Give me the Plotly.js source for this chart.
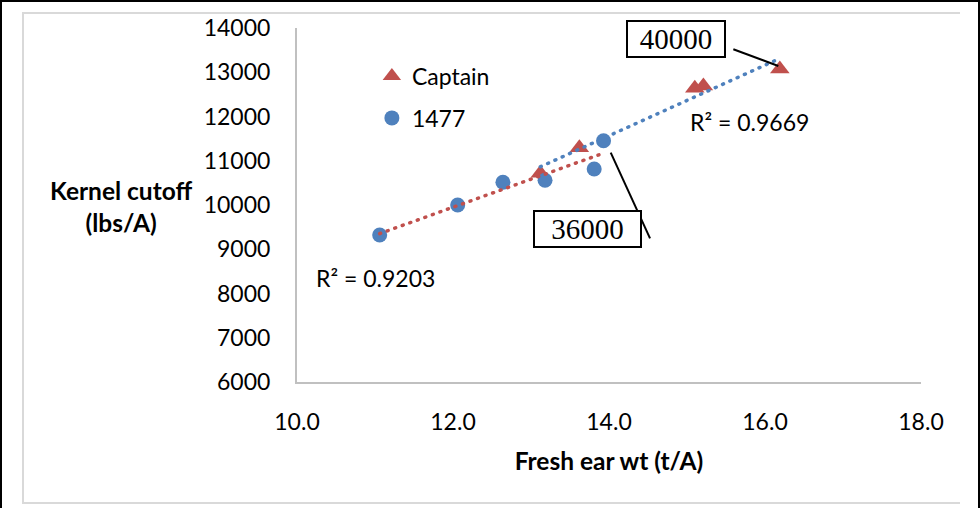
<!DOCTYPE html>
<html>
<head>
<meta charset="utf-8">
<script src="https://cdn.plot.ly/plotly-3.0.1.min.js"></script>
<style>
html,body{margin:0;padding:0;background:#fff;overflow:hidden;}
#frame{position:absolute;left:0;top:0;width:976px;height:506px;border-left:2px solid #000;border-top:2px solid #000;border-right:2px solid #000;}
#inner{position:absolute;left:22px;top:12px;width:936px;height:488px;border-left:2px solid #d9d9d9;border-top:2px solid #d9d9d9;border-bottom:2px solid #d9d9d9;}
#chart{position:absolute;left:0;top:0;width:980px;height:508px;z-index:2;}
.scatterlayer .trace path.js-line{stroke-linecap:round;}
</style>
</head>
<body>
<div id="frame"></div>
<div id="inner"></div>
<div id="chart"></div>
<script>
// ---- data ----
const seriesNames = ['Captain', '1477'];
const captainX = [13.12, 13.62, 15.10, 15.21, 16.19];
const captainY = [10716, 11295, 12637, 12689, 13073];
const s1477X = [11.06, 12.06, 12.64, 13.18, 13.81, 13.93];
const s1477Y = [9322, 10000, 10513, 10558, 10814, 11453];
const r2Labels = ['R² = 0.9669', 'R² = 0.9203'];
const calloutLabels = ['40000', '36000'];
const xTickVals = [10, 12, 14, 16, 18];
const yTickVals = [6000, 7000, 8000, 9000, 10000, 11000, 12000, 13000, 14000];
const xTitle = 'Fresh ear wt (t/A)';
const yTitleLines = ['Kernel cutoff', '(lbs/A)'];

// linear least-squares trendline over the data's own x span
function trend(xs, ys) {
  const n = xs.length;
  const mx = xs.reduce((a, b) => a + b, 0) / n;
  const my = ys.reduce((a, b) => a + b, 0) / n;
  let sxy = 0, sxx = 0;
  for (let i = 0; i < n; i++) { sxy += (xs[i] - mx) * (ys[i] - my); sxx += (xs[i] - mx) ** 2; }
  const b = sxy / sxx, a = my - b * mx;
  const x0 = Math.min(...xs), x1 = Math.max(...xs);
  return { x: [x0, x1], y: [a + b * x0, a + b * x1] };
}
const tCaptain = trend(captainX, captainY);
const t1477 = trend(s1477X, s1477Y);

const RED = '#C0504D', BLUE = '#4F81BD';

const traces = [
  { x: captainX, y: captainY, name: seriesNames[0], mode: 'markers', type: 'scatter', legendgroup: 'a',
    marker: { symbol: 'triangle-up', size: 17, color: RED } },
  { x: s1477X, y: s1477Y, name: seriesNames[1], mode: 'markers', type: 'scatter', legendgroup: 'b',
    marker: { symbol: 'circle', size: 15, color: BLUE } },
  { x: t1477.x, y: t1477.y, mode: 'lines', type: 'scatter', showlegend: false, hoverinfo: 'skip',
    line: { color: RED, width: 3.5, dash: '1px,7px' } },
  { x: tCaptain.x, y: tCaptain.y, mode: 'lines', type: 'scatter', showlegend: false, hoverinfo: 'skip',
    line: { color: BLUE, width: 3.5, dash: '1px,7px' } }
];

const layout = {
  width: 980, height: 508,
  margin: { l: 297, r: 59, t: 28, b: 126, pad: 0 },
  paper_bgcolor: 'rgba(0,0,0,0)', plot_bgcolor: 'rgba(0,0,0,0)',
  font: { family: 'Lato, sans-serif', size: 23, color: '#000' },
  showlegend: true,
  xaxis: {
    range: [10, 18], tickvals: xTickVals, tickformat: '.1f',
    showgrid: false, zeroline: false, showline: true, linecolor: '#c0c0c0', linewidth: 2,
    ticks: '', ticklabelstandoff: 18,
    title: { text: '<b>' + xTitle + '</b>', font: { size: 24.5 }, standoff: 19 }
  },
  yaxis: {
    range: [6000, 14000], tickvals: yTickVals, tickformat: 'd',
    showgrid: false, zeroline: false, showline: true, linecolor: '#c0c0c0', linewidth: 2,
    ticks: '', ticklabelstandoff: 20
  },
  legend: {
    x: 0.12, y: 0.925, xanchor: 'left', yanchor: 'top',
    bgcolor: 'rgba(0,0,0,0)', font: { size: 23 },
    traceorder: 'grouped', tracegroupgap: 9
  },
  annotations: [
    { xref: 'paper', yref: 'paper', x: -0.282, y: 0.495, xanchor: 'center', yanchor: 'middle',
      text: '<b>' + yTitleLines.join('</b><br><b>') + '</b>', showarrow: false, font: { size: 24.5 } },
    { x: 15.795, y: 11876, text: r2Labels[0], showarrow: false, xanchor: 'center', yanchor: 'middle' },
    { x: 11.006, y: 8350, text: r2Labels[1], showarrow: false, xanchor: 'center', yanchor: 'middle' },
    { x: 14.86, y: 13751, text: calloutLabels[0], showarrow: false, xanchor: 'center', yanchor: 'middle',
      font: { family: 'Liberation Serif, serif', size: 29 }, bordercolor: '#000', borderwidth: 2,
      borderpad: 1, bgcolor: '#fff', width: 94 },
    { x: 13.724, y: 9458, text: calloutLabels[1], showarrow: false, xanchor: 'center', yanchor: 'middle',
      font: { family: 'Liberation Serif, serif', size: 29 }, bordercolor: '#000', borderwidth: 2,
      borderpad: 1, bgcolor: '#fff', width: 103 }
  ],
  shapes: [
    { type: 'line', xref: 'x', yref: 'y', x0: 15.594, y0: 13519, x1: 16.171, y1: 13141,
      line: { color: '#000', width: 2 } },
    { type: 'line', xref: 'x', yref: 'y', x0: 14.022, y0: 11182, x1: 14.526, y1: 9247,
      line: { color: '#000', width: 2 } }
  ]
};

Plotly.newPlot('chart', traces, layout, { displayModeBar: false, staticPlot: true });
</script>
</body>
</html>
